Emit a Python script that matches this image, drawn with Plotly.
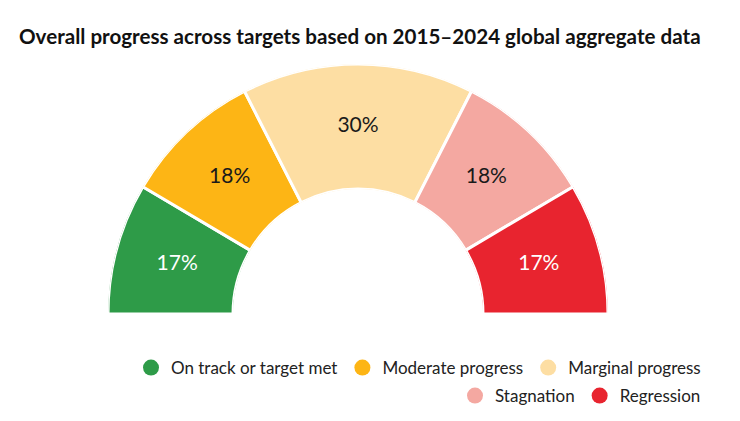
import plotly.graph_objects as go

categories = ["On track or target met", "Moderate progress", "Marginal progress", "Stagnation", "Regression"]
values = [17, 18, 30, 18, 17]
colors = ["#2e9b48", "#fdb515", "#fddea3", "#f4a8a1", "#e8242f"]
label_colors = ["#ffffff", "#1a1a1a", "#1a1a1a", "#1a1a1a", "#ffffff"]
title_text = "Overall progress across targets based on 2015\u20132024 global aggregate data"

total = sum(values)
deg_per_unit = 180.0 / total
widths = [v * deg_per_unit for v in values]
centers = []
acc = 0.0
for w in widths:
    centers.append(acc + w / 2)
    acc += w

fig = go.Figure()
for i, cat in enumerate(categories):
    fig.add_trace(go.Barpolar(
        r=[1], theta=[centers[i]], width=[widths[i]], base=0,
        marker=dict(color=colors[i], line=dict(color="white", width=3)),
        name=cat, showlegend=False, hoverinfo="name",
    ))

fig.add_trace(go.Scatterpolar(
    r=[0.5] * len(values), theta=centers, mode="text",
    text=[f"{v}%" for v in values],
    textfont=dict(family="Lato", size=21, color=label_colors),
    showlegend=False, hoverinfo="skip",
))

for i, cat in enumerate(categories):
    fig.add_trace(go.Scatterpolar(
        r=[None], theta=[None], mode="markers",
        marker=dict(color=colors[i], size=16, symbol="circle"),
        name=cat, legend="legend" if i < 3 else "legend2",
    ))

fig.update_layout(
    width=740, height=421,
    margin=dict(l=0, r=0, t=0, b=0),
    paper_bgcolor="white", plot_bgcolor="white",
    title=dict(text=title_text, x=11 / 740, xanchor="left", y=1 - 29 / 421, yanchor="middle",
               font=dict(family="Lato", size=20.6, color="#111111", weight="bold")),
    polar=dict(
        domain=dict(x=[100 / 740, 600 / 740], y=[1 - 306 / 421, 1 - 56 / 421]),
        sector=[0, 180], hole=0.5, bgcolor="white",
        radialaxis=dict(range=[0, 1], visible=False),
        angularaxis=dict(rotation=180, direction="clockwise", visible=False),
    ),
    legend=dict(orientation="h", x=698 / 740, xanchor="right", y=1 - 360 / 421, yanchor="middle",
                font=dict(family="Lato", size=17, color="#222222"), bgcolor="rgba(0,0,0,0)"),
    legend2=dict(orientation="h", x=698 / 740, xanchor="right", y=1 - 388 / 421, yanchor="middle",
                 font=dict(family="Lato", size=17, color="#222222"), bgcolor="rgba(0,0,0,0)"),
)

fig.write_html("out.html")
